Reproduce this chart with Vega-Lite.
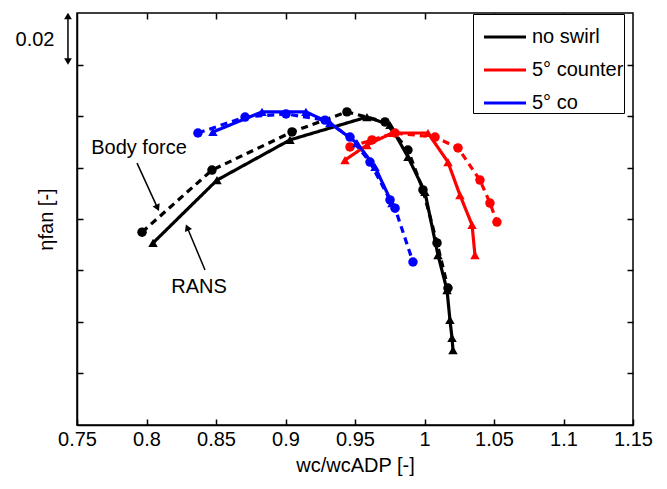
{
  "$schema": "https://vega.github.io/schema/vega-lite/v6.json",
  "width": 556,
  "height": 412,
  "autosize": {"type": "none"},
  "padding": {"left": 77, "top": 13, "right": 34, "bottom": 64},
  "background": "white",
  "config": {
    "font": "Liberation Sans",
    "view": {"stroke": "black", "strokeWidth": 1.5},
    "axis": {"grid": false, "domainColor": "black", "domainWidth": 1.5, "tickColor": "black", "tickWidth": 1.5, "tickSize": -6, "labelColor": "black", "titleColor": "black", "labelFontSize": 20, "titleFontSize": 20, "titleFontWeight": "normal"}
  },
  "datasets": {
    "curves": [
      {"s": "no swirl", "m": "RANS", "x": 0.8047, "y": 0.8107},
      {"s": "no swirl", "m": "RANS", "x": 0.8507, "y": 0.8351},
      {"s": "no swirl", "m": "RANS", "x": 0.9032, "y": 0.8507},
      {"s": "no swirl", "m": "RANS", "x": 0.9586, "y": 0.8596},
      {"s": "no swirl", "m": "RANS", "x": 0.9752, "y": 0.8565},
      {"s": "no swirl", "m": "RANS", "x": 0.9881, "y": 0.8441},
      {"s": "no swirl", "m": "RANS", "x": 1.0003, "y": 0.8305},
      {"s": "no swirl", "m": "RANS", "x": 1.0097, "y": 0.806},
      {"s": "no swirl", "m": "RANS", "x": 1.0162, "y": 0.7924},
      {"s": "no swirl", "m": "RANS", "x": 1.0183, "y": 0.7808},
      {"s": "no swirl", "m": "RANS", "x": 1.0198, "y": 0.7738},
      {"s": "no swirl", "m": "RANS", "x": 1.0205, "y": 0.7691},
      {"s": "no swirl", "m": "Body force", "x": 0.7968, "y": 0.8149},
      {"s": "no swirl", "m": "Body force", "x": 0.8471, "y": 0.839},
      {"s": "no swirl", "m": "Body force", "x": 0.9047, "y": 0.8538},
      {"s": "no swirl", "m": "Body force", "x": 0.9442, "y": 0.8616},
      {"s": "no swirl", "m": "Body force", "x": 0.9716, "y": 0.8577},
      {"s": "no swirl", "m": "Body force", "x": 0.9881, "y": 0.8468},
      {"s": "no swirl", "m": "Body force", "x": 0.9989, "y": 0.8313},
      {"s": "no swirl", "m": "Body force", "x": 1.009, "y": 0.8107},
      {"s": "no swirl", "m": "Body force", "x": 1.0169, "y": 0.7932},
      {"s": "5° counter", "m": "RANS", "x": 0.9428, "y": 0.8429},
      {"s": "5° counter", "m": "RANS", "x": 0.9586, "y": 0.8487},
      {"s": "5° counter", "m": "RANS", "x": 0.9766, "y": 0.8534},
      {"s": "5° counter", "m": "RANS", "x": 1.0025, "y": 0.8534},
      {"s": "5° counter", "m": "RANS", "x": 1.0169, "y": 0.8421},
      {"s": "5° counter", "m": "RANS", "x": 1.0255, "y": 0.8293},
      {"s": "5° counter", "m": "RANS", "x": 1.0342, "y": 0.8177},
      {"s": "5° counter", "m": "RANS", "x": 1.0363, "y": 0.806},
      {"s": "5° counter", "m": "Body force", "x": 0.9464, "y": 0.848},
      {"s": "5° counter", "m": "Body force", "x": 0.9622, "y": 0.8507},
      {"s": "5° counter", "m": "Body force", "x": 0.9788, "y": 0.8534},
      {"s": "5° counter", "m": "Body force", "x": 1.0076, "y": 0.8518},
      {"s": "5° counter", "m": "Body force", "x": 1.0241, "y": 0.8476},
      {"s": "5° counter", "m": "Body force", "x": 1.0399, "y": 0.8351},
      {"s": "5° counter", "m": "Body force", "x": 1.0471, "y": 0.8262},
      {"s": "5° counter", "m": "Body force", "x": 1.0521, "y": 0.8188},
      {"s": "5° co", "m": "RANS", "x": 0.8478, "y": 0.8538},
      {"s": "5° co", "m": "RANS", "x": 0.8831, "y": 0.8616},
      {"s": "5° co", "m": "RANS", "x": 0.9147, "y": 0.8616},
      {"s": "5° co", "m": "RANS", "x": 0.932, "y": 0.8573},
      {"s": "5° co", "m": "RANS", "x": 0.9514, "y": 0.8495},
      {"s": "5° co", "m": "RANS", "x": 0.9644, "y": 0.8402},
      {"s": "5° co", "m": "RANS", "x": 0.9766, "y": 0.8262},
      {"s": "5° co", "m": "Body force", "x": 0.837, "y": 0.8534},
      {"s": "5° co", "m": "Body force", "x": 0.8709, "y": 0.8596},
      {"s": "5° co", "m": "Body force", "x": 0.9004, "y": 0.8608},
      {"s": "5° co", "m": "Body force", "x": 0.9284, "y": 0.8584},
      {"s": "5° co", "m": "Body force", "x": 0.9464, "y": 0.8518},
      {"s": "5° co", "m": "Body force", "x": 0.9608, "y": 0.8421},
      {"s": "5° co", "m": "Body force", "x": 0.9752, "y": 0.8274},
      {"s": "5° co", "m": "Body force", "x": 0.9788, "y": 0.8242},
      {"s": "5° co", "m": "Body force", "x": 0.9917, "y": 0.8033}
    ],
    "arrows": [
      {"k": "Body force", "x": 0.7932, "y": 0.8417, "x2": 0.8076, "y2": 0.8247},
      {"k": "RANS", "x": 0.8421, "y": 0.8002, "x2": 0.8296, "y2": 0.8163},
      {"k": "scale", "x": 0.7435, "y": 0.8984, "x2": 0.7435, "y2": 0.8816}
    ],
    "heads": [
      {"x": 0.8076, "y": 0.8247, "angle": 155},
      {"x": 0.8296, "y": 0.8163, "angle": 337},
      {"x": 0.7435, "y": 0.8984, "angle": 0},
      {"x": 0.7435, "y": 0.8816, "angle": 180}
    ],
    "labels": [
      {"t": "Body force", "x": 0.7946, "y": 0.8476},
      {"t": "RANS", "x": 0.8378, "y": 0.7936},
      {"t": "0.02", "x": 0.7198, "y": 0.8894}
    ]
  },
  "layer": [
    {
      "data": {"name": "curves"},
      "mark": {"type": "line", "strokeWidth": 3.2},
      "encoding": {
        "x": {"field": "x", "type": "quantitative", "scale": {"domain": [0.75, 1.15], "nice": false, "zero": false}, "axis": {"values": [0.75, 0.8, 0.85, 0.9, 0.95, 1, 1.05, 1.1, 1.15], "labelExpr": "datum.value == 1 ? '1' : format(datum.value, '.3~f')", "labelPadding": 10, "title": "wc/wcADP [-]", "titlePadding": 6, "labelFlush": false}},
        "y": {"field": "y", "type": "quantitative", "scale": {"domain": [0.74, 0.9], "nice": false, "zero": false}, "axis": {"values": [0.76, 0.78, 0.8, 0.82, 0.84, 0.86, 0.88], "labels": false, "title": "ηfan [-]", "titlePadding": 20}},
        "color": {"field": "s", "type": "nominal", "scale": {"domain": ["no swirl", "5° counter", "5° co"], "range": ["#000000", "#ff0000", "#0000ff"]},
          "legend": {"orient": "none", "legendX": 396, "legendY": 1, "title": null, "symbolType": "stroke", "symbolStrokeWidth": 3.2, "symbolSize": 1764, "symbolOffset": 9, "labelFontSize": 20, "labelColor": "black", "labelLimit": 0, "labelExpr": "datum.label + '\u00a0'", "fillColor": "white", "strokeColor": "black", "padding": 0, "rowPadding": -11, "labelOffset": 4}},
        "strokeDash": {"field": "m", "type": "nominal", "scale": {"domain": ["RANS", "Body force"], "range": [[1, 0], [7, 5]]}, "legend": null},
        "detail": {"field": "m"}
      }
    },
    {
      "data": {"name": "curves"},
      "mark": {"type": "point", "filled": true, "opacity": 1},
      "encoding": {
        "x": {"field": "x", "type": "quantitative", "axis": null},
        "y": {"field": "y", "type": "quantitative", "axis": null},
        "color": {"field": "s", "type": "nominal", "legend": null},
        "shape": {"field": "m", "type": "nominal", "scale": {"domain": ["RANS", "Body force"], "range": ["triangle-up", "circle"]}, "legend": null},
        "size": {"value": 90}
      }
    },
    {
      "data": {"name": "arrows"},
      "mark": {"type": "rule", "color": "black", "strokeWidth": 1.5},
      "encoding": {
        "x": {"field": "x", "type": "quantitative", "axis": null},
        "y": {"field": "y", "type": "quantitative", "axis": null},
        "x2": {"field": "x2"},
        "y2": {"field": "y2"}
      }
    },
    {
      "data": {"name": "heads"},
      "mark": {"type": "point", "shape": "triangle", "filled": true, "color": "black", "opacity": 1, "size": 60},
      "encoding": {
        "x": {"field": "x", "type": "quantitative", "axis": null},
        "y": {"field": "y", "type": "quantitative", "axis": null},
        "angle": {"field": "angle", "type": "quantitative", "scale": null}
      }
    },
    {
      "data": {"name": "labels"},
      "mark": {"type": "text", "fontSize": 20, "color": "black", "align": "center", "baseline": "middle"},
      "encoding": {
        "x": {"field": "x", "type": "quantitative", "axis": null},
        "y": {"field": "y", "type": "quantitative", "axis": null},
        "text": {"field": "t"}
      }
    },
    {
      "data": {"values": [{"x": 0.75, "y": 0.74}]},
      "mark": {"type": "point", "opacity": 0},
      "encoding": {
        "x": {"field": "x", "type": "quantitative", "axis": {"orient": "top", "values": [0.8, 0.85, 0.9, 0.95, 1, 1.05, 1.1], "labels": false, "title": null, "domain": false}},
        "y": {"field": "y", "type": "quantitative", "axis": {"orient": "right", "values": [0.76, 0.78, 0.8, 0.82, 0.84, 0.86, 0.88], "labels": false, "title": null, "domain": false}}
      }
    }
  ],
  "resolve": {"axis": {"x": "independent", "y": "independent"}}
}
